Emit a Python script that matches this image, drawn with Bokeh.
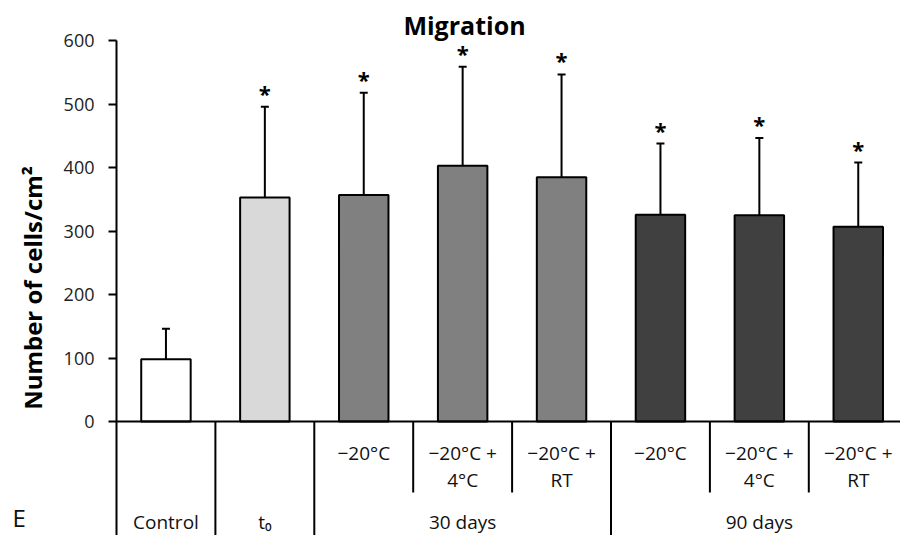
from bokeh.plotting import figure
from bokeh.models import ColumnDataSource, Range1d, FixedTicker, Whisker, TeeHead
from bokeh.core.properties import value
from bokeh.embed import file_html
from bokeh.resources import INLINE

# ---- data ----
groups = ["Control", "t₀", "30 days", "30 days", "30 days", "90 days", "90 days", "90 days"]
cond_line1 = ["", "", "−20°C", "−20°C +", "−20°C +", "−20°C", "−20°C +", "−20°C +"]
cond_line2 = ["", "", "", "4°C", "RT", "", "4°C", "RT"]
means = [98, 353, 357, 403, 385, 326, 325, 307]
errors = [48, 143, 161, 156, 162, 112, 122, 101]
significant = [False, True, True, True, True, True, True, True]
y_ticks = [0, 100, 200, 300, 400, 500, 600]
group_colors = {"Control": "#ffffff", "t₀": "#d9d9d9", "30 days": "#808080", "90 days": "#404040"}
title_text = "Migration"
panel_letter = "E"

FONT = "Open Sans"
n = len(means)
xc = [i + 0.5 for i in range(n)]

W, H = 900, 535
axis_px, zero_px, top_px = 116, 421, 40.3     # layout of the reference, in pixels
cat_px = 98.9
ppu = (zero_px - top_px) / 600.0              # pixels per data unit (y)
x_start = -axis_px / cat_px
x_end = (W - axis_px) / cat_px
y_end = zero_px / ppu
y_bottom = -(H - zero_px) / ppu

def ypx(px):
    """data y for a pixel row of the canvas"""
    return (zero_px - px) / ppu

def xpx(px):
    return (px - axis_px) / cat_px

p = figure(width=W, height=H, x_range=Range1d(x_start, x_end), y_range=Range1d(y_bottom, y_end),
           output_backend="svg", toolbar_location=None,
           min_border_left=0, min_border_top=0, min_border_bottom=0, min_border_right=0)
p.xaxis.visible = False
p.grid.visible = False
p.outline_line_color = None
p.background_fill_color = "white"

ya = p.yaxis[0]
ya.fixed_location = 0
ya.bounds = (y_bottom, 600)
ya.ticker = FixedTicker(ticks=y_ticks)
ya.major_tick_out = 8
ya.major_tick_in = 0
ya.minor_tick_line_color = None
ya.axis_line_width = 2
ya.axis_line_color = "black"
ya.major_tick_line_width = 2
ya.major_tick_line_color = "black"
ya.major_label_text_font = FONT
ya.major_label_text_font_size = "18px"
ya.major_label_text_color = "#222222"
ya.major_label_standoff = 14
ya.axis_label = "Number of cells/cm²"
ya.axis_label_text_font = FONT
ya.axis_label_text_font_style = "bold"
ya.axis_label_text_font_size = "24px"
ya.axis_label_text_color = "black"
ya.axis_label_standoff = 12

src = ColumnDataSource(dict(
    x=xc, top=means, upper=[m + e for m, e in zip(means, errors)],
    color=[group_colors[g] for g in groups]))

p.vbar(x="x", top="top", bottom=0, width=0.5, fill_color="color",
       line_color="black", line_width=2, source=src)

p.add_layout(Whisker(base="x", lower="top", upper="upper", source=src,
                     line_width=2, line_color="black",
                     upper_head=TeeHead(size=8, line_width=2, line_color="black"),
                     lower_head=None, level="glyph"))

sx = [x for x, s in zip(xc, significant) if s]
sy = [m + e for m, e, s in zip(means, errors, significant) if s]
p.text(x=sx, y=sy, text=["*"] * len(sx), text_font=value(FONT), text_font_style="bold",
       text_font_size=value("22px"), text_align="center", text_baseline="alphabetic",
       y_offset=-14, text_color="black")

# x-axis line (from the y axis to the right edge)
p.segment(x0=[0], y0=[0], x1=[x_end], y1=[0], line_color="black", line_width=2)

# table separators
short_end = ypx(492)
for b in range(1, n):
    end = y_bottom if groups[b] != groups[b - 1] else short_end
    p.segment(x0=[b], y0=[0], x1=[b], y1=[end], line_color="black", line_width=2)

# condition labels
p.text(x=xc, y=[ypx(452.7)] * n, text=cond_line1, text_font=value(FONT), text_font_size=value("19px"),
       text_align="center", text_baseline="middle", text_color="#111111")
p.text(x=xc, y=[ypx(479)] * n, text=cond_line2, text_font=value(FONT), text_font_size=value("19px"),
       text_align="center", text_baseline="middle", text_color="#111111")

# group labels centered over their spans
seen = []
for g in groups:
    if g not in seen:
        seen.append(g)
gx = []
for g in seen:
    idx = [i for i, gg in enumerate(groups) if gg == g]
    gx.append((idx[0] + idx[-1] + 1) / 2)
p.text(x=gx, y=[ypx(521.5)] * len(seen), text=seen, text_font=value(FONT), text_font_size=value("19px"),
       text_align="center", text_baseline="middle", text_color="#111111")

# title and panel letter
p.text(x=[xpx(464)], y=[ypx(24)], text=[title_text], text_font=value(FONT), text_font_style="bold",
       text_font_size=value("25px"), text_align="center", text_baseline="middle",
       text_color="black")
p.text(x=[xpx(12)], y=[ypx(517)], text=[panel_letter], text_font=value(FONT),
       text_font_size=value("24px"), text_align="left", text_baseline="middle",
       text_color="#111111")

open("out.html", "w").write(file_html(p, INLINE))
